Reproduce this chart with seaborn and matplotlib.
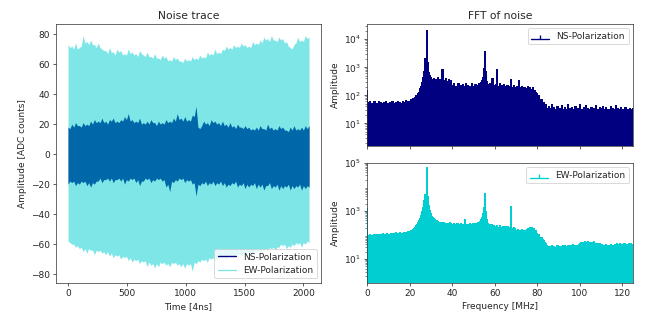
"""
Noise trace and FFT of noise for the NS / EW polarizations.
Saves out.png (645x321).
"""

import matplotlib.pyplot as plt
import numpy as np
import seaborn as sns
from matplotlib.lines import Line2D

sns.set_style("ticks")
plt.rcParams["font.family"] = ["DejaVu Sans"]
plt.rcParams["axes.edgecolor"] = "0.2"

NS_COLOR = "navy"
EW_COLOR = "darkturquoise"

# --- noise trace envelopes, one value every T_STEP samples (ADC counts) ---
T_STEP = 16
NS_HI = [18, 17, 20, 18, 21, 19, 19, 18, 21, 19, 20, 19, 22, 20, 23, 21, 22, 21, 24, 21,
         22, 20, 23, 22, 24, 21, 22, 21, 23, 22, 25, 23, 27, 22, 23, 21, 22, 21, 24, 20,
         21, 20, 22, 20, 23, 21, 21, 19, 22, 20, 21, 20, 23, 21, 22, 21, 24, 22, 27, 23,
         24, 22, 25, 22, 23, 22, 26, 25, 32, 18, 17, 19, 22, 20, 21, 19, 23, 21, 22, 20,
         21, 19, 22, 19, 20, 18, 21, 18, 19, 17, 20, 18, 18, 17, 19, 17, 18, 16, 17, 16,
         18, 16, 19, 17, 17, 16, 20, 17, 18, 16, 17, 16, 19, 17, 18, 16, 16, 15, 18, 16,
         19, 16, 17, 16, 18, 16, 19, 17, 19]
NS_LO = [-20, -18, -19, -18, -21, -19, -20, -18, -19, -18, -21, -19, -22, -19, -20, -18, -18, -16, -19, -17,
         -17, -16, -18, -16, -19, -17, -17, -16, -18, -16, -20, -17, -18, -16, -17, -16, -19, -17, -21, -18,
         -18, -16, -17, -16, -19, -17, -18, -16, -17, -16, -18, -17, -22, -20, -25, -18, -19, -17, -18, -16,
         -17, -16, -19, -17, -18, -17, -20, -19, -28, -20, -21, -19, -20, -18, -21, -19, -20, -18, -21, -19,
         -20, -18, -21, -19, -22, -20, -21, -19, -20, -18, -22, -20, -21, -19, -23, -20, -22, -20, -21, -19,
         -23, -20, -22, -20, -24, -21, -21, -19, -23, -21, -22, -20, -24, -21, -23, -21, -22, -20, -24, -21,
         -23, -21, -22, -20, -24, -21, -23, -21, -22]
EW_HI = [73, 71, 72, 70, 74, 70, 71, 72, 79, 74, 75, 73, 76, 73, 73, 71, 74, 71, 70, 69,
         69, 67, 71, 68, 68, 66, 70, 68, 69, 66, 67, 66, 70, 67, 68, 66, 67, 65, 69, 67,
         66, 65, 68, 65, 65, 64, 67, 64, 64, 63, 66, 64, 65, 62, 63, 62, 65, 63, 64, 62,
         62, 61, 64, 62, 63, 62, 65, 63, 64, 63, 66, 64, 65, 64, 68, 66, 67, 66, 70, 67,
         68, 67, 70, 69, 72, 70, 71, 70, 73, 71, 72, 71, 74, 72, 73, 71, 72, 71, 75, 73,
         74, 73, 76, 74, 78, 76, 77, 75, 79, 76, 76, 75, 78, 76, 77, 74, 75, 72, 71, 70,
         73, 74, 78, 75, 76, 75, 79, 77, 78]
EW_LO = [-58, -59, -60, -60, -62, -61, -63, -62, -65, -63, -66, -63, -64, -64, -67, -64, -65, -64, -66, -65,
         -67, -65, -68, -66, -69, -67, -68, -67, -70, -68, -69, -68, -71, -69, -72, -70, -71, -70, -73, -71,
         -72, -71, -75, -72, -74, -73, -76, -73, -75, -72, -73, -72, -74, -73, -75, -72, -73, -72, -74, -73,
         -75, -73, -76, -73, -74, -73, -78, -72, -73, -71, -72, -70, -71, -70, -72, -69, -70, -69, -71, -69,
         -70, -68, -69, -68, -70, -67, -68, -67, -69, -67, -67, -66, -68, -66, -66, -65, -67, -65, -66, -64,
         -65, -64, -66, -63, -64, -63, -65, -62, -63, -62, -64, -62, -62, -60, -61, -60, -63, -61, -62, -60,
         -61, -59, -60, -59, -62, -59, -60, -58, -59]

# --- FFT amplitudes, one value every F_STEP MHz ---
F_STEP = 0.5
NS_FFT = [150, 55, 48, 60, 42, 52, 38, 57, 46, 50, 41, 58, 44, 53, 36, 49, 55, 43, 60, 47,
          52, 40, 56, 45, 58, 49, 38, 54, 47, 61, 44, 55, 50, 42, 59, 48, 53, 62, 46, 57,
          60, 72, 58, 78, 70, 85, 95, 90, 110, 125,
          170, 200, 280, 420, 700, 2000, 20000, 1500, 650, 500,
          420, 350, 310, 400, 280, 360, 330, 420, 300, 370,
          290, 800, 340, 260, 380, 300, 270, 350, 240, 330,
          230, 180, 250, 160, 210, 190, 270, 170, 220, 150,
          240, 200, 180, 260, 160, 230, 190, 210, 170, 250,
          200, 180, 240, 220, 190, 260, 230, 280, 320, 420,
          900, 3600, 700, 300, 240, 200, 260, 180, 400, 220,
          190, 240, 800, 210, 170, 250, 190, 220, 160, 240,
          200, 180, 230, 170, 210, 350, 190, 160, 230, 180,
          170, 200, 150, 320, 180, 140, 210, 160, 190, 130,
          170, 200, 150, 180, 140, 160, 190, 130, 150, 120,
          110, 75, 95, 60, 70, 48, 55, 40, 45, 33,
          30, 38, 26, 33, 45, 28, 35, 24, 31, 40,
          27, 34, 29, 42, 25, 32, 37, 28, 30, 48,
          26, 33, 29, 36, 24, 31, 39, 27, 34, 30,
          45, 28, 32, 26, 35, 29, 41, 27, 33, 25,
          30, 37, 28, 34, 26, 43, 29, 31, 24, 36,
          28, 33, 40, 26, 30, 35, 27, 32, 25, 38,
          29, 34, 27, 31, 44, 26, 33, 28, 30, 36,
          24, 32, 29, 35, 27, 31, 26, 34, 30, 28,
          33]
EW_FFT = [1200, 95, 88, 102, 84, 98, 91, 105, 86, 100, 93, 108, 89, 103, 96, 110, 92, 106, 99, 114,
          95, 109, 102, 118, 98, 112, 105, 122, 101, 116, 109, 126, 104, 120, 113, 132, 108, 125, 118, 138,
          145, 160, 150, 175, 190, 210, 240, 280, 330, 400,
          500, 650, 900, 1400, 2600, 5000, 62000, 3800, 1600, 1000,
          750, 600, 520, 470, 430, 400, 380, 360, 340, 330,
          320, 300, 340, 290, 310, 280, 300, 270, 320, 290,
          280, 250, 300, 260, 240, 290, 270, 230, 310, 260,
          280, 240, 420, 260, 230, 280, 250, 300, 240, 270,
          290, 250, 310, 270, 330, 300, 360, 420, 520, 750,
          1400, 5500, 900, 450, 300, 260, 230, 280, 210, 250,
          220, 190, 250, 200, 180, 240, 210, 170, 230, 190,
          215, 175, 225, 185, 200, 1500, 190, 165, 210, 180,
          160, 140, 175, 130, 155, 145, 170, 135, 160, 150,
          175, 190, 165, 200, 180, 195, 170, 185, 150, 160,
          120, 95, 100, 75, 80, 62, 58, 48, 42, 36,
          30, 34, 28, 32, 36, 29, 33, 27, 31, 35,
          30, 34, 28, 33, 37, 31, 35, 29, 34, 38,
          32, 36, 30, 35, 39, 33, 37, 31, 36, 40,
          44, 48, 42, 50, 46, 52, 44, 49, 53, 45,
          48, 43, 47, 51, 42, 46, 40, 44, 38, 42,
          36, 40, 34, 38, 35, 39, 33, 37, 36, 41,
          34, 38, 35, 40, 37, 42, 35, 39, 44, 36,
          40, 37, 43, 38, 41, 36, 45, 39, 42, 37,
          40]


def plot_trace(ax):
    t = np.arange(len(NS_HI)) * T_STEP
    ax.fill_between(t, NS_LO, NS_HI, color=NS_COLOR, lw=0)
    ax.fill_between(t, EW_LO, EW_HI, color=EW_COLOR, alpha=0.5, lw=0)
    handles = [Line2D([], [], color=NS_COLOR, lw=1.5),
               Line2D([], [], color=EW_COLOR, alpha=0.5, lw=1.5)]
    ax.legend(handles, ["NS-Polarization", "EW-Polarization"], loc="lower right", frameon=True)
    ax.set_title("Noise trace")
    ax.set_xlabel("Time [4ns]")
    ax.set_ylabel("Amplitude [ADC counts]")
    ax.set_xticks([0, 500, 1000, 1500, 2000])
    ax.set_yticks(np.arange(-80, 81, 20))


def plot_fft(ax, amps, color, label, ylim, yticks):
    f = np.arange(len(amps)) * F_STEP
    ax.set_yscale("log")
    stem = ax.stem(f, amps, linefmt=color, markerfmt=" ", basefmt=color,
                   bottom=0.1, label=label)
    # dense stems: draw them aliased so neighbouring bins merge without moire
    stem.stemlines.set_linewidth(1.3)
    stem.stemlines.set_snap(False)
    stem.stemlines.set_antialiased(False)
    ax.set_xlim(0, 125)
    ax.set_ylim(*ylim)
    ax.set_yticks(yticks)
    ax.set_ylabel("Amplitude")
    ax.legend(loc="upper right", frameon=True)


def main():
    fig = plt.figure(figsize=(10, 4.98), dpi=64.5)
    ax_t = fig.add_axes([0.0868, 0.1184, 0.411, 0.807])
    ax_ns = fig.add_axes([0.5690, 0.5452, 0.4124, 0.380])
    ax_ew = fig.add_axes([0.5690, 0.1184, 0.4124, 0.374], sharex=ax_ns)

    plot_trace(ax_t)
    plot_fft(ax_ns, NS_FFT, NS_COLOR, "NS-Polarization", (1.55, 3.5e4), [1e1, 1e2, 1e3, 1e4])
    plot_fft(ax_ew, EW_FFT, EW_COLOR, "EW-Polarization", (1, 1e5), [1e1, 1e3, 1e5])
    ax_ns.set_title("FFT of noise")
    ax_ns.tick_params(labelbottom=False)
    ax_ew.set_xlabel("Frequency [MHz]")
    ax_ew.set_xticks(np.arange(0, 121, 20))

    fig.savefig("out.png", dpi=64.5)
    plt.close(fig)


if __name__ == "__main__":
    main()
